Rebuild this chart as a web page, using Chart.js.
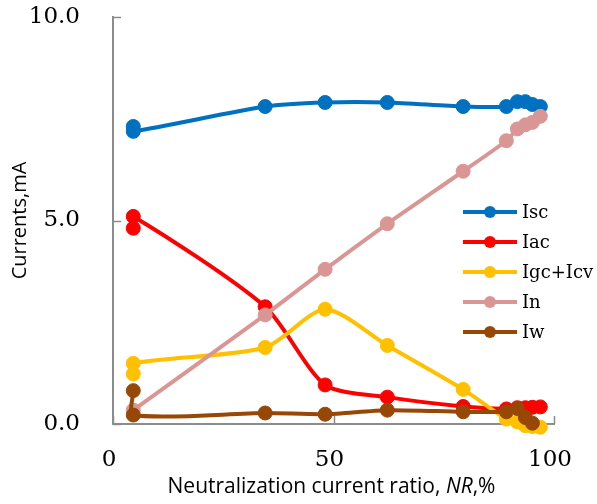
<!DOCTYPE html>
<html>
<head>
<meta charset="utf-8">
<script src="https://cdn.jsdelivr.net/npm/chart.js@4.4.1/dist/chart.umd.min.js"></script>
<style>
  body { margin: 0; background: #fff; }
  #wrap { width: 597px; height: 504px; }
</style>
</head>
<body>
<div id="wrap"><canvas id="chart" width="597" height="504"></canvas></div>
<script>
// Neutralization current ratio NR,% (two readings at the lowest ratio)
const ratios = [4.6, 4.6, 34.5, 48.1, 62.2, 79.4, 89.2, 91.7, 93.5, 95.1, 96.9];

// Currents, mA
const isc    = [7.31, 7.19, 7.80, 7.90, 7.90, 7.80, 7.80, 7.92, 7.92, 7.85, 7.80];
const iac    = [4.81, 5.10, 2.88, 0.96, 0.66, 0.43, 0.37, 0.40, 0.40, 0.41, 0.42];
const igcIcv = [1.23, 1.49, 1.88, 2.82, 1.93, 0.85, 0.12, 0.05, -0.04, -0.06, -0.08];
const iN     = [0.34, null, 2.68, 3.80, 4.92, 6.21, 6.96, 7.25, 7.35, 7.41, 7.56];
const iw     = [0.82, 0.22, 0.27, 0.24, 0.34, 0.30, 0.30, 0.38, 0.16, 0.02, null];

const seriesNames  = ['Isc', 'Iac', 'Igc+Icv', 'In', 'Iw'];
const seriesColors = ['#0070C0', '#FF0000', '#FFC000', '#DA9694', '#974806'];
const seriesValues = [isc, iac, igcIcv, iN, iw];

const yTicks = [0, 5, 10];
const xTicks = [0, 50, 100];

const AXIS_COLOR = '#8c8c8c';
const SERIF = '"DejaVu Serif", serif';
const SANS = '"Open Sans", sans-serif';

function toPoints(values) {
  return values
    .map((v, i) => ({ x: ratios[i], y: v }))
    .filter(p => p.y !== null);
}

const datasets = seriesValues.map((values, i) => ({
  label: seriesNames[i],
  data: toPoints(values),
  borderColor: seriesColors[i],
  backgroundColor: seriesColors[i],
  pointBackgroundColor: seriesColors[i],
  pointBorderColor: seriesColors[i],
  borderWidth: 4,
  pointRadius: 7,
  pointBorderWidth: 1,
  tension: 0.25,
  clip: false,
  order: seriesNames.length - 1 - i
}));

// inward tick marks like the original
const innerTicks = {
  id: 'innerTicks',
  afterDraw(chart) {
    const { ctx, scales: { x, y } } = chart;
    ctx.save();
    ctx.strokeStyle = AXIS_COLOR;
    ctx.lineWidth = 1.5;
    ctx.beginPath();
    yTicks.forEach(v => {
      const py = Math.round(y.getPixelForValue(v)) + 0.5;
      ctx.moveTo(x.left, py);
      ctx.lineTo(x.left + 8, py);
    });
    xTicks.forEach(v => {
      const px = Math.round(x.getPixelForValue(v)) + 0.5;
      ctx.moveTo(px, y.bottom);
      ctx.lineTo(px, y.bottom - 8);
    });
    ctx.stroke();
    ctx.restore();
  }
};

// x title with italic NR
const xTitle = {
  id: 'xTitle',
  afterDraw(chart) {
    const { ctx, scales: { x } } = chart;
    const parts = [
      { text: 'Neutralization current ratio, ', font: '21px ' + SANS },
      { text: 'NR', font: 'italic 21px ' + SANS },
      { text: ',%', font: '21px ' + SANS }
    ];
    ctx.save();
    ctx.fillStyle = '#000';
    ctx.textBaseline = 'middle';
    let total = 0;
    parts.forEach(p => { ctx.font = p.font; p.w = ctx.measureText(p.text).width; total += p.w; });
    let cx = (x.left + x.right) / 2 - 2 - total / 2;
    parts.forEach(p => {
      ctx.font = p.font;
      ctx.fillText(p.text, cx, chart.height - 17);
      cx += p.w;
    });
    ctx.restore();
  }
};

// legend inside the plot, right side
const innerLegend = {
  id: 'innerLegend',
  afterDraw(chart) {
    const { ctx } = chart;
    const left = 463, right = 517, textX = 522, top = 212, step = 30;
    ctx.save();
    chart.data.datasets.forEach((ds, i) => {
      const yy = top + i * step;
      ctx.strokeStyle = ds.borderColor;
      ctx.lineWidth = 4;
      ctx.beginPath();
      ctx.moveTo(left, yy);
      ctx.lineTo(right, yy);
      ctx.stroke();
      ctx.fillStyle = ds.borderColor;
      ctx.beginPath();
      ctx.arc((left + right) / 2, yy, 6, 0, Math.PI * 2);
      ctx.fill();
      ctx.fillStyle = '#000';
      ctx.font = '18px ' + SERIF;
      ctx.textBaseline = 'middle';
      ctx.fillText(ds.label, textX, yy + 1);
    });
    ctx.restore();
  }
};

new Chart(document.getElementById('chart'), {
  type: 'line',
  data: { datasets },
  options: {
    responsive: false,
    animation: false,
    layout: { padding: { top: 17, left: 0, right: 43, bottom: 0 } },
    plugins: {
      legend: { display: false },
      tooltip: { enabled: false }
    },
    scales: {
      x: {
        type: 'linear',
        min: 0,
        max: 100,
        afterBuildTicks: s => { s.ticks = xTicks.map(v => ({ value: v })); },
        afterFit: s => { s.height = 80; s.paddingLeft = 0; s.paddingRight = 0; },
        grid: { display: false, drawTicks: false },
        border: { display: true, color: AXIS_COLOR, width: 2 },
        ticks: {
          padding: 22,
          labelOffset: -4,
          color: '#000',
          font: { family: SERIF, size: 23 }
        }
      },
      y: {
        type: 'linear',
        min: 0,
        max: 10,
        afterBuildTicks: s => { s.ticks = yTicks.map(v => ({ value: v })); },
        afterFit: s => { s.width = 113; s.paddingTop = 0; s.paddingBottom = 0; },
        grid: { display: false, drawTicks: false },
        border: { display: true, color: AXIS_COLOR, width: 2 },
        ticks: {
          padding: 33,
          color: '#000',
          font: { family: SERIF, size: 23 },
          callback: v => v.toFixed(1)
        },
        title: {
          display: true,
          text: 'Currents,mA',
          color: '#000',
          font: { family: SANS, size: 20 },
          padding: { top: 8, bottom: 0 }
        }
      }
    }
  },
  plugins: [innerTicks, xTitle, innerLegend]
});
</script>
</body>
</html>
